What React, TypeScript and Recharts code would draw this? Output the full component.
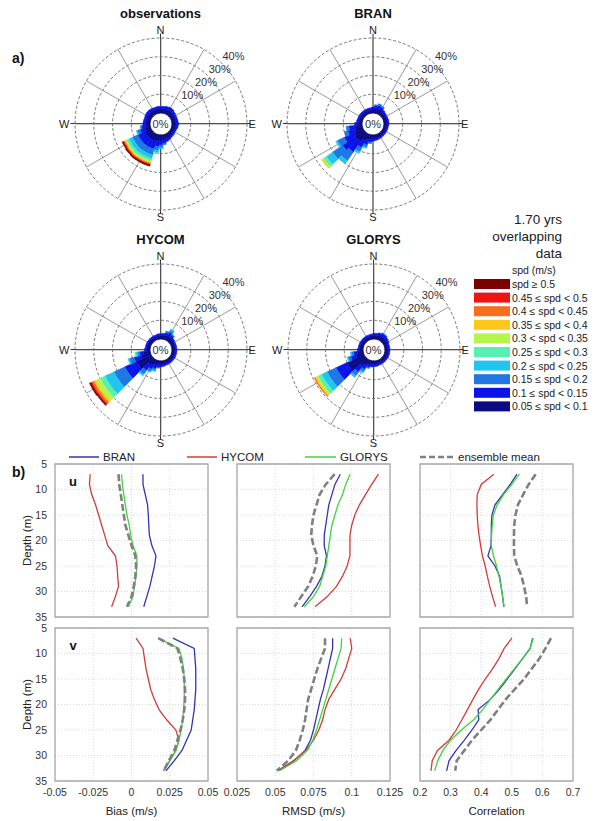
import React from 'react';
import {
  RadialBarChart, RadialBar, PolarGrid, PolarAngleAxis, PolarRadiusAxis, Cell,
  LineChart, Line, XAxis, YAxis, CartesianGrid, ReferenceArea,
} from 'recharts';

const FONT = '"Liberation Sans", Arial, Helvetica, sans-serif';

// ---------------- Wind rose data ----------------
const directions = ['0','10','20','30','40','50','60','70','80','90','100','110','120','130','140','150','160','170','180','190','200','210','220','230','240','250','260','270','280','290','300','310','320','330','340','350'];
const speedColors = ['#0a0a82', '#0a14ea', '#1f76e4', '#22c4f0', '#55f0b2', '#b6f54e', '#fbc71a', '#fa6c1e', '#ee1414', '#7c0000'];
const speedLabels = ['0.05 ≤ spd < 0.1', '0.1 ≤ spd < 0.15', '0.15 ≤ spd < 0.2', '0.2 ≤ spd < 0.25', '0.25 ≤ spd < 0.3', '0.3 < spd < 0.35', '0.35 ≤ spd < 0.4', '0.4 ≤ spd < 0.45', '0.45 ≤ spd < 0.5', 'spd ≥ 0.5'];
const pctTicks = [10, 20, 30, 40];
const spokeAngles = [0, 30, 60, 90, 120, 150, 180, 210, 240, 270, 300, 330];

const obsRose = [
  [2.3,1.3],[2.2,1.2],[2.3,1.3],[2.4,1.5],[2.5,1.7],[2.5,1.6],[2.3,1.3],[2.2,1.1],[2.1,1.1],[2.1,1.2],
  [2.2,1.3],[2.2,1.1],[2.0,0.9],[1.9,0.8],[2.0,0.9,0.3],[2.1,1.0],[2.3,1.2],[2.5,1.5],[2.8,1.9,0.6],[3.0,2.4,1.4,0.6],
  [3.2,3.0,2.2,1.2,0.4],
  [3.7,4.3,3.2,2.1,1.3,0.8,0.5,0.5,0.4,0.6],
  [3.7,4.3,3.2,2.1,1.3,0.8,0.5,0.5,0.4,0.6],
  [3.7,4.3,3.3,2.1,1.3,0.8,0.5,0.5,0.4,0.6],
  [3.7,4.2,3.2,2.1,1.3,0.8,0.5,0.5,0.4,0.6],
  [3.6,4.2,3.2,2.0,1.3,0.8,0.5,0.5,0.4,0.5],
  [3.0,2.6,1.6,0.6],[2.6,1.9,0.7],[2.4,1.4],[2.3,1.3],[2.3,1.2],[2.4,1.3],[2.5,1.4],[2.5,1.4],[2.4,1.3],[2.3,1.2],
];
const branRose = [
  [1.9,0.9],[2.1,1.1],[2.4,1.6,0.5],[2.6,1.9,0.8],[2.4,1.7,0.6],[2.1,1.2],[1.9,0.9],[1.8,0.8],[1.8,0.8],[1.8,0.9],
  [1.8,0.8],[1.7,0.7],[1.7,0.7],[1.7,0.7],[1.7,0.7],[1.8,0.7],[1.8,0.8],[1.9,0.9],[2.0,1.0],[2.1,1.2],
  [2.4,1.7,0.6],[3.0,2.6,1.5,0.5],[4.0,4.0,2.5,1.0],[5.5,7.0,5.5,2.0],[6.0,8.0,6.5,4.0,1.8,0.8,0.4],[5.0,6.0,4.0,1.0],
  [4.0,4.0,2.0],[3.5,3.5,1.5],[2.4,1.5],[2.0,1.0],[1.9,0.9],[1.9,0.9],[1.9,0.9],[1.9,0.9],[1.9,0.9],[1.9,0.9],
];
const hycomRose = [
  [1.9,0.9],[1.9,0.9],[2.0,1.1],[2.3,1.5,0.8],[2.5,2.0,1.2,0.8],[2.3,1.5,0.6],[2.0,1.0],[1.8,0.8],[1.8,0.8],[1.8,0.8],
  [1.8,0.8],[1.8,0.8],[1.8,0.8],[1.8,0.8],[1.8,0.8],[1.8,0.8],[1.8,0.8],[1.8,0.8],[1.9,1.0],[2.0,1.1],
  [2.2,1.3,0.4],[2.5,2.0,1.0,0.6],[3.0,2.5,1.5,0.3],[4.0,3.5,2.5,1.0],
  [8.5,6.9,6.4,5.3,2.7,2.7,1.1,1.1,0.7,0.5],
  [8.5,6.9,6.4,5.3,2.7,2.7,1.2,1.1,0.7,0.7],
  [5.0,4.0,2.5,0.8],[3.5,2.0,1.2,1.0,0.5],[2.0,1.0],[1.8,0.8],[1.8,0.8],[1.8,0.8],[1.8,0.8],[1.8,0.8],[1.8,0.8],[1.8,0.8],
];
const glorysRose = [
  [1.8,0.9],[1.9,1.0],[2.0,1.1],[2.2,1.4],[2.4,1.6,0.3],[2.4,1.5,0.3],[2.2,1.3],[2.0,1.1],[1.8,0.8],[1.8,0.8],
  [1.8,0.8],[1.8,0.8],[1.8,0.8],[1.8,0.8],[1.8,0.8],[1.8,0.8],[1.8,0.8],[1.8,0.8],[1.9,1.0],[1.9,1.0],
  [2.1,1.2],[2.3,1.6,0.5],[3.0,2.5,1.5,0.8],[4.5,4.0,2.5,1.0],
  [10.0,6.4,5.3,3.2,2.1,1.1,0.8,0.4],
  [10.0,6.4,5.3,3.2,2.1,1.1,0.8,0.4],
  [4.0,3.0,1.5,0.5],[3.0,2.0,1.2,0.6],[2.0,1.0],[1.8,0.8],[1.8,0.8],[1.8,0.8],[1.8,0.8],[1.8,0.8],[1.8,0.8],[1.8,0.8],
];

// ---------------- Profile data ----------------
const depths = [7, 9, 11, 13, 15, 17, 19, 21, 23, 25, 27, 29, 31, 33];
const depthTicks = [5, 10, 15, 20, 25, 30, 35];
const biasTicks = [-0.05, -0.025, 0, 0.025, 0.05];
const rmsdTicks = [0.025, 0.05, 0.075, 0.1, 0.125];
const corrTicks = [0.2, 0.3, 0.4, 0.5, 0.6, 0.7];

const uBiasBran = [0.0075, 0.0075, 0.009, 0.0105, 0.011, 0.0113, 0.0117, 0.0133, 0.016, 0.015, 0.0135, 0.012, 0.010, 0.008];
const uBiasHycom = [-0.027, -0.0275, -0.026, -0.0235, -0.0215, -0.0195, -0.0175, -0.0155, -0.0105, -0.0095, -0.009, -0.0085, -0.0105, -0.013];
const uBiasGlorys = [-0.0065, -0.006, -0.005, -0.004, -0.003, -0.0015, -0.0005, 0.001, 0.0035, 0.0035, 0.003, 0.002, 0.001, -0.002];
const uBiasEns = [-0.0085, -0.008, -0.007, -0.006, -0.005, -0.004, -0.002, 0.0, 0.0025, 0.003, 0.0025, 0.0015, 0.0, -0.003];

const uRmsdBran = [0.0925, 0.089, 0.087, 0.085, 0.084, 0.083, 0.082, 0.082, 0.0835, 0.0825, 0.0805, 0.077, 0.0725, 0.0675];
const uRmsdHycom = [0.1175, 0.113, 0.109, 0.105, 0.102, 0.1, 0.0988, 0.0988, 0.0988, 0.097, 0.094, 0.09, 0.084, 0.076];
const uRmsdGlorys = [0.099, 0.096, 0.094, 0.091, 0.089, 0.087, 0.086, 0.085, 0.084, 0.083, 0.081, 0.079, 0.075, 0.069];
const uRmsdEns = [0.0888, 0.083, 0.079, 0.077, 0.075, 0.074, 0.0735, 0.075, 0.0775, 0.0765, 0.0745, 0.0715, 0.067, 0.0625];

const uCorrBran = [0.517, 0.495, 0.47, 0.445, 0.435, 0.433, 0.433, 0.432, 0.422, 0.445, 0.46, 0.465, 0.47, 0.474];
const uCorrHycom = [0.441, 0.40, 0.387, 0.386, 0.387, 0.389, 0.393, 0.398, 0.404, 0.413, 0.42, 0.428, 0.437, 0.447];
const uCorrGlorys = [0.525, 0.50, 0.473, 0.452, 0.44, 0.436, 0.434, 0.433, 0.44, 0.45, 0.458, 0.465, 0.47, 0.475];
const uCorrEns = [0.578, 0.555, 0.537, 0.52, 0.512, 0.508, 0.507, 0.507, 0.508, 0.518, 0.532, 0.54, 0.547, 0.55];

const vBiasBran = [0.027, 0.041, 0.0415, 0.042, 0.042, 0.042, 0.0415, 0.041, 0.040, 0.039, 0.036, 0.033, 0.028, 0.0225];
const vBiasHycom = [0.003, 0.0075, 0.0085, 0.0095, 0.011, 0.0125, 0.015, 0.018, 0.023, 0.029, 0.031, 0.029, 0.025, 0.021];
const vBiasGlorys = [0.0175, 0.031, 0.033, 0.034, 0.0345, 0.0345, 0.0345, 0.034, 0.0335, 0.0325, 0.031, 0.029, 0.025, 0.021];
const vBiasEns = [0.0175, 0.030, 0.032, 0.0335, 0.0345, 0.035, 0.035, 0.0345, 0.0335, 0.032, 0.030, 0.028, 0.0245, 0.021];

const vRmsdBran = [0.0875, 0.0875, 0.086, 0.0845, 0.083, 0.0815, 0.0795, 0.078, 0.0765, 0.075, 0.073, 0.0695, 0.0625, 0.0515];
const vRmsdHycom = [0.099, 0.1, 0.098, 0.096, 0.093, 0.089, 0.085, 0.0825, 0.081, 0.0785, 0.075, 0.07, 0.062, 0.052];
const vRmsdGlorys = [0.0935, 0.093, 0.091, 0.089, 0.087, 0.085, 0.083, 0.081, 0.079, 0.077, 0.0745, 0.071, 0.064, 0.053];
const vRmsdEns = [0.0825, 0.0825, 0.08, 0.0775, 0.0755, 0.0735, 0.0715, 0.0705, 0.0695, 0.068, 0.066, 0.0635, 0.0585, 0.051];

const vCorrBran = [0.568, 0.56, 0.535, 0.51, 0.485, 0.46, 0.43, 0.39, 0.392, 0.37, 0.345, 0.318, 0.295, 0.287];
const vCorrHycom = [0.50, 0.475, 0.458, 0.437, 0.413, 0.392, 0.373, 0.355, 0.337, 0.318, 0.295, 0.257, 0.24, 0.236];
const vCorrGlorys = [0.57, 0.56, 0.535, 0.508, 0.482, 0.456, 0.43, 0.405, 0.375, 0.335, 0.30, 0.275, 0.258, 0.248];
const vCorrEns = [0.628, 0.61, 0.59, 0.565, 0.54, 0.51, 0.48, 0.455, 0.43, 0.40, 0.37, 0.345, 0.32, 0.315];

const COL_BRAN = '#3434b2';
const COL_HYCOM = '#d23c3c';
const COL_GLORYS = '#3fd43f';
const COL_ENS = '#808080';

// ---------------- Rose component ----------------
const R_IN = 11;
const R_OUT = 86;
const SIZE = 200;
const LABEL_ANGLE = 43;
const ringR = (v: number) => R_IN + (v / 40) * (R_OUT - R_IN);

function buildRose(rose: number[][]) {
  return directions.map((d, i) => {
    const o: any = { dir: d };
    for (let k = 0; k < speedColors.length; k++) o['c' + k] = rose[i][k] ?? 0;
    return o;
  });
}

function Rose({ rose, cx, cy }: { rose: number[][]; cx: number; cy: number }) {
  const data = buildRose(rose);
  return (
    <div style={{ position: 'absolute', left: cx - SIZE / 2, top: cy - SIZE / 2, width: SIZE, height: SIZE }}>
      <RadialBarChart
        width={SIZE} height={SIZE} cx={SIZE / 2} cy={SIZE / 2}
        innerRadius={R_IN} outerRadius={R_OUT}
        data={data} layout="centric" startAngle={95} endAngle={-265}
        barCategoryGap={0} barGap={0}
        margin={{ top: 0, right: 0, bottom: 0, left: 0 }}
      >
        <PolarGrid gridType="circle" radialLines={false} polarRadius={[ringR(10), ringR(20), ringR(30), ringR(40)]} stroke="#555" strokeWidth={0.8} strokeDasharray="3 2" />
        <PolarGrid gridType="circle" polarRadius={[R_IN]} polarAngles={spokeAngles} stroke="#808080" strokeWidth={0.8} />
        <PolarAngleAxis type="category" dataKey="dir" tick={false} axisLine={false} tickLine={false} />
        <PolarRadiusAxis type="number" domain={[0, 40]} ticks={pctTicks} angle={LABEL_ANGLE} axisLine={false} tickLine={false} tick={false} />
        {speedColors.map((c, k) => (
          <RadialBar key={k} dataKey={'c' + k} stackId="s" fill={c} isAnimationActive={false}>
            {data.map((e: any, i: number) => (
              <Cell key={i} fill={c} stroke={e['c' + k] > 0 ? c : 'none'} strokeWidth={e['c' + k] > 0 ? 0.6 : 0} />
            ))}
          </RadialBar>
        ))}
      </RadialBarChart>
    </div>
  );
}

// ---------------- Profile component ----------------
const PW = 153;
const PH = 153;

type ProfileProps = {
  bran: number[]; hycom: number[]; glorys: number[]; ens: number[];
  domain: [number, number]; ticks: number[];
  showX: boolean; showY: boolean; xLabel?: string;
  left: number; top: number;
};

function Profile(p: ProfileProps) {
  const data = depths.map((d, i) => ({ depth: d, bran: p.bran[i], hycom: p.hycom[i], glorys: p.glorys[i], ens: p.ens[i] }));
  const yW = p.showY ? 44 : 1;
  const mL = p.showY ? 0 : 14;
  const xH = p.showX ? 40 : 8;
  const mT = 8;
  const mR = 14;
  const W = mL + yW + PW + mR;
  const H = mT + PH + xH;
  const tickStyle = { fontSize: 10.5, fill: '#333', fontFamily: FONT };
  return (
    <div style={{ position: 'absolute', left: p.left - yW - mL, top: p.top - mT, width: W, height: H }}>
      <LineChart layout="vertical" width={W} height={H} data={data} margin={{ top: mT, right: mR, bottom: 0, left: mL }}>
        <CartesianGrid stroke="#d8d8d8" strokeDasharray="1 2" />
        <XAxis
          type="number" domain={p.domain} ticks={p.ticks} allowDataOverflow
          height={xH} axisLine={false} tickLine={false} interval={0}
          tick={tickStyle}
          tickFormatter={p.showX ? undefined : () => ''}
          label={p.showX && p.xLabel ? { value: p.xLabel, position: 'insideBottom', offset: 6, style: { fontSize: 11.5, fill: '#222', fontFamily: FONT } } : undefined}
        />
        <YAxis
          type="number" dataKey="depth" domain={[5, 35]} ticks={depthTicks} allowDataOverflow
          width={yW} axisLine={false} tickLine={false} interval={0}
          tick={tickStyle}
          tickFormatter={p.showY ? undefined : () => ''}
          label={p.showY ? { value: 'Depth (m)', angle: -90, position: 'insideLeft', offset: 16, style: { textAnchor: 'middle', fontSize: 11.5, fill: '#222', fontFamily: FONT } } : undefined}
        />
        <ReferenceArea x1={p.domain[0]} x2={p.domain[1]} y1={5} y2={35} fill="none" fillOpacity={0} stroke="#a8a8a8" strokeWidth={1.3} ifOverflow="visible" />
        <Line dataKey="bran" stroke={COL_BRAN} strokeWidth={1.3} dot={false} isAnimationActive={false} />
        <Line dataKey="hycom" stroke={COL_HYCOM} strokeWidth={1.3} dot={false} isAnimationActive={false} />
        <Line dataKey="glorys" stroke={COL_GLORYS} strokeWidth={1.3} dot={false} isAnimationActive={false} />
        <Line dataKey="ens" stroke={COL_ENS} strokeWidth={2.6} strokeDasharray="7 3" dot={false} isAnimationActive={false} />
      </LineChart>
    </div>
  );
}

// ---------------- Layout ----------------
const roses = [
  { title: 'observations', rose: obsRose, cx: 160.5, cy: 123.5 },
  { title: 'BRAN', rose: branRose, cx: 373, cy: 123.5 },
  { title: 'HYCOM', rose: hycomRose, cx: 160.5, cy: 349.5 },
  { title: 'GLORYS', rose: glorysRose, cx: 373.5, cy: 349.5 },
];

const COLS = [55, 237, 420];
const ROWS = [464, 628];
const rad = (LABEL_ANGLE * Math.PI) / 180;

export default function App() {
  return (
    <div style={{ position: 'absolute', left: 0, top: 0, width: 604, height: 821, background: '#fff', overflow: 'hidden', fontFamily: FONT }}>
      {/* rose axes behind the roses */}
      <svg width={604} height={821} style={{ position: 'absolute', left: 0, top: 0 }}>
        {roses.map((r, i) => (
          <g key={i} stroke="#333" strokeWidth={1}>
            <line x1={r.cx - 90} y1={r.cy} x2={r.cx - R_IN} y2={r.cy} />
            <line x1={r.cx + R_IN} y1={r.cy} x2={r.cx + 90} y2={r.cy} />
            <line x1={r.cx} y1={r.cy - 90} x2={r.cx} y2={r.cy - R_IN} />
            <line x1={r.cx} y1={r.cy + R_IN} x2={r.cx} y2={r.cy + 90} />
          </g>
        ))}
      </svg>

      {roses.map((r, i) => (
        <Rose key={i} rose={r.rose} cx={r.cx} cy={r.cy} />
      ))}

      <Profile bran={uBiasBran} hycom={uBiasHycom} glorys={uBiasGlorys} ens={uBiasEns} domain={[-0.05, 0.05]} ticks={biasTicks} showX={false} showY={true} left={COLS[0]} top={ROWS[0]} />
      <Profile bran={uRmsdBran} hycom={uRmsdHycom} glorys={uRmsdGlorys} ens={uRmsdEns} domain={[0.025, 0.125]} ticks={rmsdTicks} showX={false} showY={false} left={COLS[1]} top={ROWS[0]} />
      <Profile bran={uCorrBran} hycom={uCorrHycom} glorys={uCorrGlorys} ens={uCorrEns} domain={[0.2, 0.7]} ticks={corrTicks} showX={false} showY={false} left={COLS[2]} top={ROWS[0]} />
      <Profile bran={vBiasBran} hycom={vBiasHycom} glorys={vBiasGlorys} ens={vBiasEns} domain={[-0.05, 0.05]} ticks={biasTicks} showX={true} showY={true} xLabel="Bias (m/s)" left={COLS[0]} top={ROWS[1]} />
      <Profile bran={vRmsdBran} hycom={vRmsdHycom} glorys={vRmsdGlorys} ens={vRmsdEns} domain={[0.025, 0.125]} ticks={rmsdTicks} showX={true} showY={false} xLabel="RMSD (m/s)" left={COLS[1]} top={ROWS[1]} />
      <Profile bran={vCorrBran} hycom={vCorrHycom} glorys={vCorrGlorys} ens={vCorrEns} domain={[0.2, 0.7]} ticks={corrTicks} showX={true} showY={false} xLabel="Correlation" left={COLS[2]} top={ROWS[1]} />

      {/* texts and legends */}
      <svg width={604} height={821} style={{ position: 'absolute', left: 0, top: 0, pointerEvents: 'none' }} fontFamily={FONT}>
        <text x={12} y={58} fontSize={14} fontWeight="bold" dominantBaseline="central" fill="#111">a)</text>
        <text x={12} y={472} fontSize={14} fontWeight="bold" dominantBaseline="central" fill="#111">b)</text>

        {roses.map((r, i) => (
          <g key={i} fill="#222" fontSize={11} dominantBaseline="central">
            <text x={r.cx} y={r.cy - 110.5} textAnchor="middle" fontSize={13} fontWeight="bold" fill="#111">{r.title}</text>
            <text x={r.cx} y={r.cy - 94} textAnchor="middle">N</text>
            <text x={r.cx} y={r.cy + 93} textAnchor="middle">S</text>
            <text x={r.cx - 91} y={r.cy} textAnchor="end">W</text>
            <text x={r.cx + 88} y={r.cy} textAnchor="start">E</text>
            <text x={r.cx} y={r.cy + 0.5} textAnchor="middle" fill="#333">0%</text>
            {pctTicks.map((t) => (
              <text key={t} x={r.cx + ringR(t) * Math.cos(rad) + 10} y={r.cy - ringR(t) * Math.sin(rad) - 8.5} textAnchor="middle" fill="#333">{t}%</text>
            ))}
          </g>
        ))}

        <g fontSize={13.5} fill="#222" textAnchor="end" dominantBaseline="central">
          <text x={562} y={219}>1.70 yrs</text>
          <text x={562} y={236}>overlapping</text>
          <text x={562} y={253}>data</text>
        </g>

        <text x={512} y={270} fontSize={10.5} fill="#222" dominantBaseline="central">spd (m/s)</text>
        {speedColors.map((c, k) => {
          const row = speedColors.length - 1 - k;
          const y = 284 + row * 13.6;
          return (
            <g key={k}>
              <rect x={474} y={y - 5} width={36} height={10} fill={c} />
              <text x={512} y={y} fontSize={10.5} fill="#222" dominantBaseline="central">{speedLabels[k]}</text>
            </g>
          );
        })}

        <g fontSize={11.5} fill="#222" dominantBaseline="central">
          <line x1={69} y1={457} x2={99} y2={457} stroke={COL_BRAN} strokeWidth={1.5} />
          <text x={103} y={457}>BRAN</text>
          <line x1={187} y1={457} x2={217} y2={457} stroke={COL_HYCOM} strokeWidth={1.5} />
          <text x={221} y={457}>HYCOM</text>
          <line x1={305} y1={457} x2={336} y2={457} stroke={COL_GLORYS} strokeWidth={1.5} />
          <text x={340} y={457}>GLORYS</text>
          <line x1={420} y1={457} x2={454} y2={457} stroke={COL_ENS} strokeWidth={2.5} strokeDasharray="6 3" />
          <text x={458} y={457}>ensemble mean</text>
        </g>

        <text x={73} y={481} fontSize={13} fontWeight="bold" textAnchor="middle" dominantBaseline="central" fill="#111">u</text>
        <text x={73} y={645} fontSize={13} fontWeight="bold" textAnchor="middle" dominantBaseline="central" fill="#111">v</text>
      </svg>
    </div>
  );
}
